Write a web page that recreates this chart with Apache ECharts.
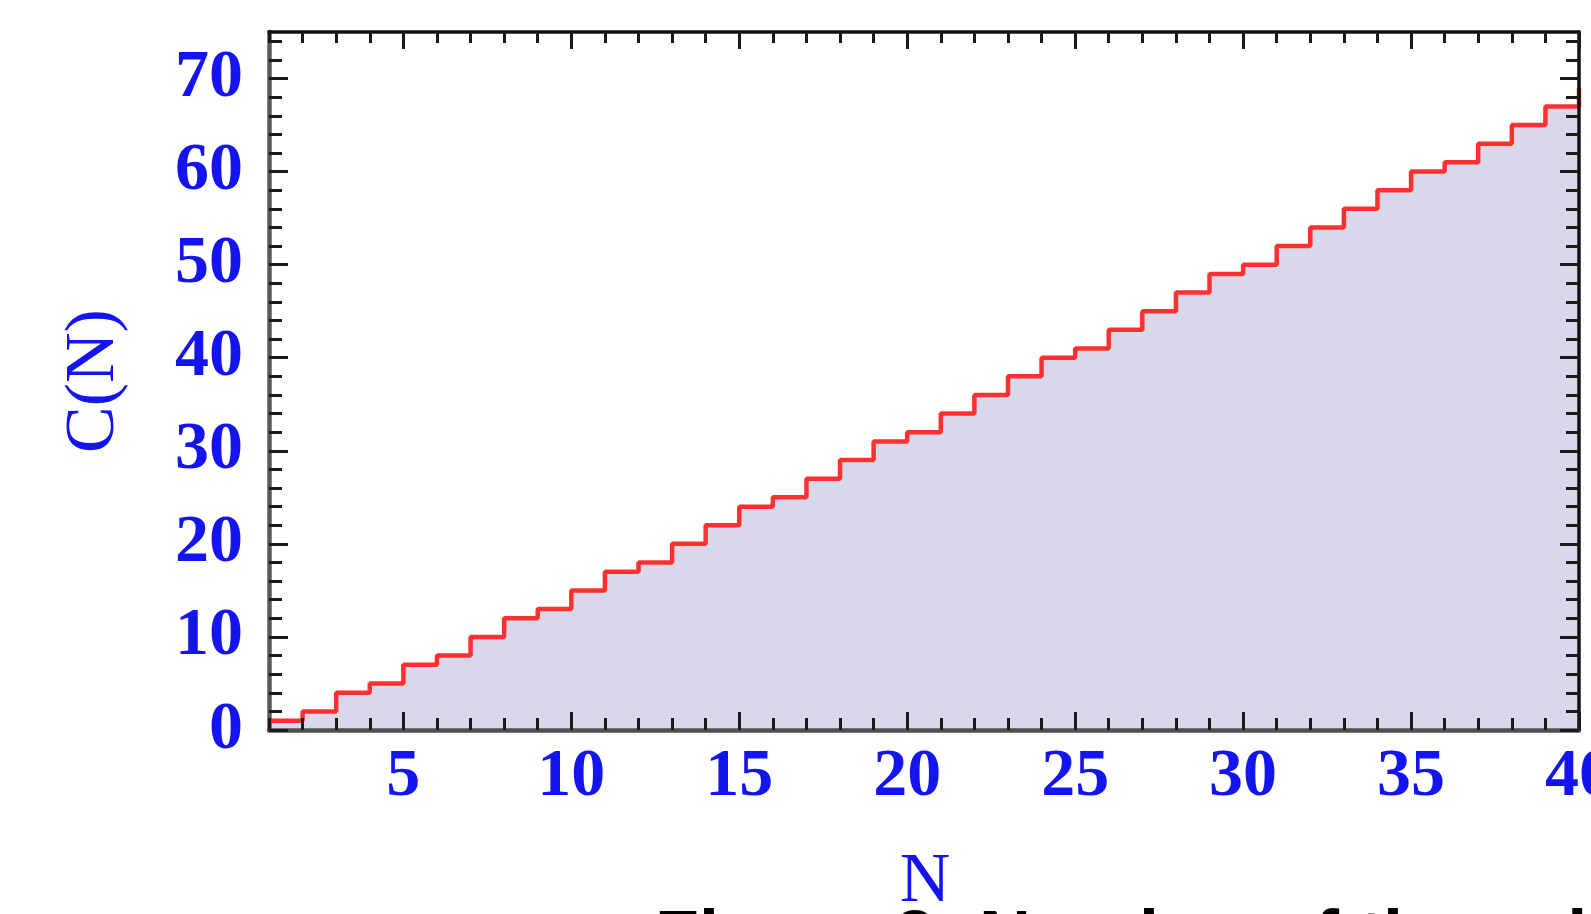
<!DOCTYPE html>
<html>
<head>
<meta charset="utf-8">
<script src="https://cdn.jsdelivr.net/npm/echarts@6/dist/echarts.min.js"></script>
<style>
html,body{margin:0;padding:0;background:#fff;}
#c{width:1591px;height:914px;}
</style>
</head>
<body>
<div id="c"></div>
<script>
// ---- data ----
var nValues = [1,2,3,4,5,6,7,8,9,10,11,12,13,14,15,16,17,18,19,20,21,22,23,24,25,26,27,28,29,30,31,32,33,34,35,36,37,38,39,40];
var cValues = [1,2,4,5,7,8,10,12,13,15,17,18,20,22,24,25,27,29,31,32,34,36,38,40,41,43,45,47,49,50,52,54,56,58,60,61,63,65,67,69];
var xMajorTicks = [5,10,15,20,25,30,35,40];
var xMinorTicks = [1,2,3,4,5,6,7,8,9,10,11,12,13,14,15,16,17,18,19,20,21,22,23,24,25,26,27,28,29,30,31,32,33,34,35,36,37,38,39,40];
var yMajorTicks = [0,10,20,30,40,50,60,70];
var yMinorTicks = [0,2,4,6,8,10,12,14,16,18,20,22,24,26,28,30,32,34,36,38,40,42,44,46,48,50,52,54,56,58,60,62,64,66,68,70,72,74];
var xTitle = 'N';
var yTitle = 'C(N)';
var caption = 'Figure 3: Number of the cells';

var stepData = nValues.map(function(n,i){ return [n, cValues[i]]; });

var blue = '#1414f0';
var labelFont = {fontFamily:'Liberation Serif', fontWeight:'bold', fontSize:68, color:blue};

function xAx(pos, ticks, len, showLine, lineColor, lineWidth, showLabel){
  return {
    type:'value', position:pos, min:1, max:40, z:10,
    axisLine:{show:showLine, onZero:false, lineStyle:{color:lineColor, width:lineWidth}},
    axisTick:{show:true, inside:true, length:len, customValues:ticks, lineStyle:{color:'#1a1a1a', width:3}},
    axisLabel:Object.assign({show:showLabel, margin:13, customValues:ticks, hideOverlap:false, formatter:function(v){return String(v);}}, labelFont),
    splitLine:{show:false}
  };
}
function yAx(pos, ticks, len, showLine, lineColor, lineWidth, showLabel){
  return {
    type:'value', position:pos, min:0, max:75, z:10,
    axisLine:{show:showLine, onZero:false, lineStyle:{color:lineColor, width:lineWidth}},
    axisTick:{show:true, inside:true, length:len, customValues:ticks, lineStyle:{color:'#1a1a1a', width:3}},
    axisLabel:Object.assign({show:showLabel, margin:26, customValues:ticks, formatter:function(v){return String(v);}}, labelFont),
    splitLine:{show:false}
  };
}

var chart = echarts.init(document.getElementById('c'), null, {renderer:'canvas'});
chart.setOption({
  animation:false,
  backgroundColor:'#fff',
  grid:{left:269, right:12, top:32, bottom:184, show:false, containLabel:false, outerBoundsMode:'none'},
  xAxis:[
    xAx('bottom', xMinorTicks, 12, true, '#505050', 4.5, false),
    xAx('bottom', xMajorTicks, 18, false, '#505050', 4.5, true),
    xAx('top', xMinorTicks, 11, true, '#111', 3.5, false),
    xAx('top', xMajorTicks, 17, false, '#111', 3.5, false)
  ],
  yAxis:[
    yAx('left', yMinorTicks, 13, true, '#5a5a5a', 4.5, false),
    yAx('left', yMajorTicks, 19, false, '#5a5a5a', 4.5, true),
    yAx('right', yMinorTicks, 13, true, '#111', 3.5, false),
    yAx('right', yMajorTicks, 19, false, '#111', 3.5, false)
  ],
  series:[{
    type:'line', xAxisIndex:0, yAxisIndex:0, step:'end', data:stepData,
    symbol:'none', z:2,
    lineStyle:{color:'#ff3030', width:4.5},
    areaStyle:{color:'#d8d8ea', opacity:1}
  }],
  graphic:[
    {type:'text', x:925, y:883, style:{text:xTitle, fontFamily:'Liberation Serif', fontSize:70, fill:blue, align:'center', verticalAlign:'middle'}},
    {type:'text', x:95, y:381, rotation:Math.PI/2, style:{text:yTitle, fontFamily:'Liberation Serif', fontSize:70, fill:blue, align:'center', verticalAlign:'middle'}},
    {type:'text', x:655, y:941, style:{text:caption, fontFamily:'Liberation Sans', fontWeight:'bold', fontSize:72, fill:'#000', align:'left', verticalAlign:'middle'}}
  ]
});
</script>
</body>
</html>
